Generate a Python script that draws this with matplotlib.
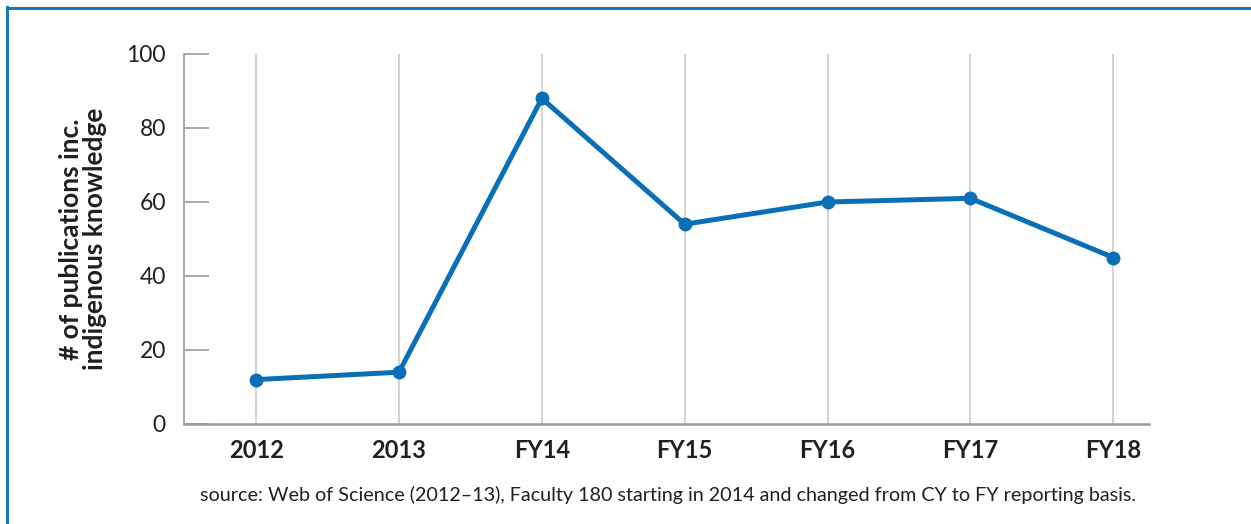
import matplotlib.pyplot as plt
from matplotlib.lines import Line2D

# publications that include indigenous knowledge, per reporting year
years = ["2012", "2013", "FY14", "FY15", "FY16", "FY17", "FY18"]
pubs = [12, 14, 88, 54, 60, 61, 45]
yticks = [0, 20, 40, 60, 80, 100]

blue = "#0a6fb7"
ink = "#231f20"
grey = "#9a9a9a"

plt.rcParams["font.family"] = ["Lato", "DejaVu Sans"]

fig = plt.figure(figsize=(12.51, 5.24), dpi=100)
ax = fig.add_axes([184 / 1251, 1 - 424 / 524, (1149 - 184) / 1251, 370 / 524])

x = list(range(len(years)))
ax.plot(x, pubs, color=blue, lw=3.6, marker="o", ms=9, zorder=3,
        solid_joinstyle="round")

ax.set_xlim(-0.505, 6.25)
ax.set_ylim(0, 100)
ax.set_xticks(x)
ax.set_xticklabels(years, fontsize=17, fontweight="bold", color=ink)
ax.set_yticks(yticks)
ax.set_yticklabels([str(v) for v in yticks], fontsize=16.5, color=ink)

ax.grid(axis="x", color="#cccccc", lw=1.2)
ax.tick_params(axis="x", length=0, pad=11)
ax.tick_params(axis="y", direction="in", length=18, width=1.2, color=grey, pad=13)

for side in ["top", "right"]:
    ax.spines[side].set_visible(False)
ax.spines["left"].set_color(grey)
ax.spines["left"].set_linewidth(1.2)
ax.spines["bottom"].set_color(grey)
ax.spines["bottom"].set_linewidth(1.8)

ax.set_ylabel("# of publications inc.\nindigenous knowledge", fontsize=19,
              fontweight="bold", color=ink, labelpad=14, linespacing=1.0)

fig.text(668 / 1251, 1 - 495 / 524,
         "source: Web of Science (2012\u201313), Faculty 180 starting in 2014 "
         "and changed from CY to FY reporting basis.",
         ha="center", va="center", fontsize=14.2, color=ink)

# blue frame along the top and left edges
fig.add_artist(Line2D([7 / 1251, 7 / 1251], [0, 1 - 7 / 524],
                      transform=fig.transFigure, color="#1a76bd", lw=2.2))
fig.add_artist(Line2D([7 / 1251, 1], [1 - 8 / 524, 1 - 8 / 524],
                      transform=fig.transFigure, color="#1a76bd", lw=2.2))

fig.savefig("out.png", dpi=100)
